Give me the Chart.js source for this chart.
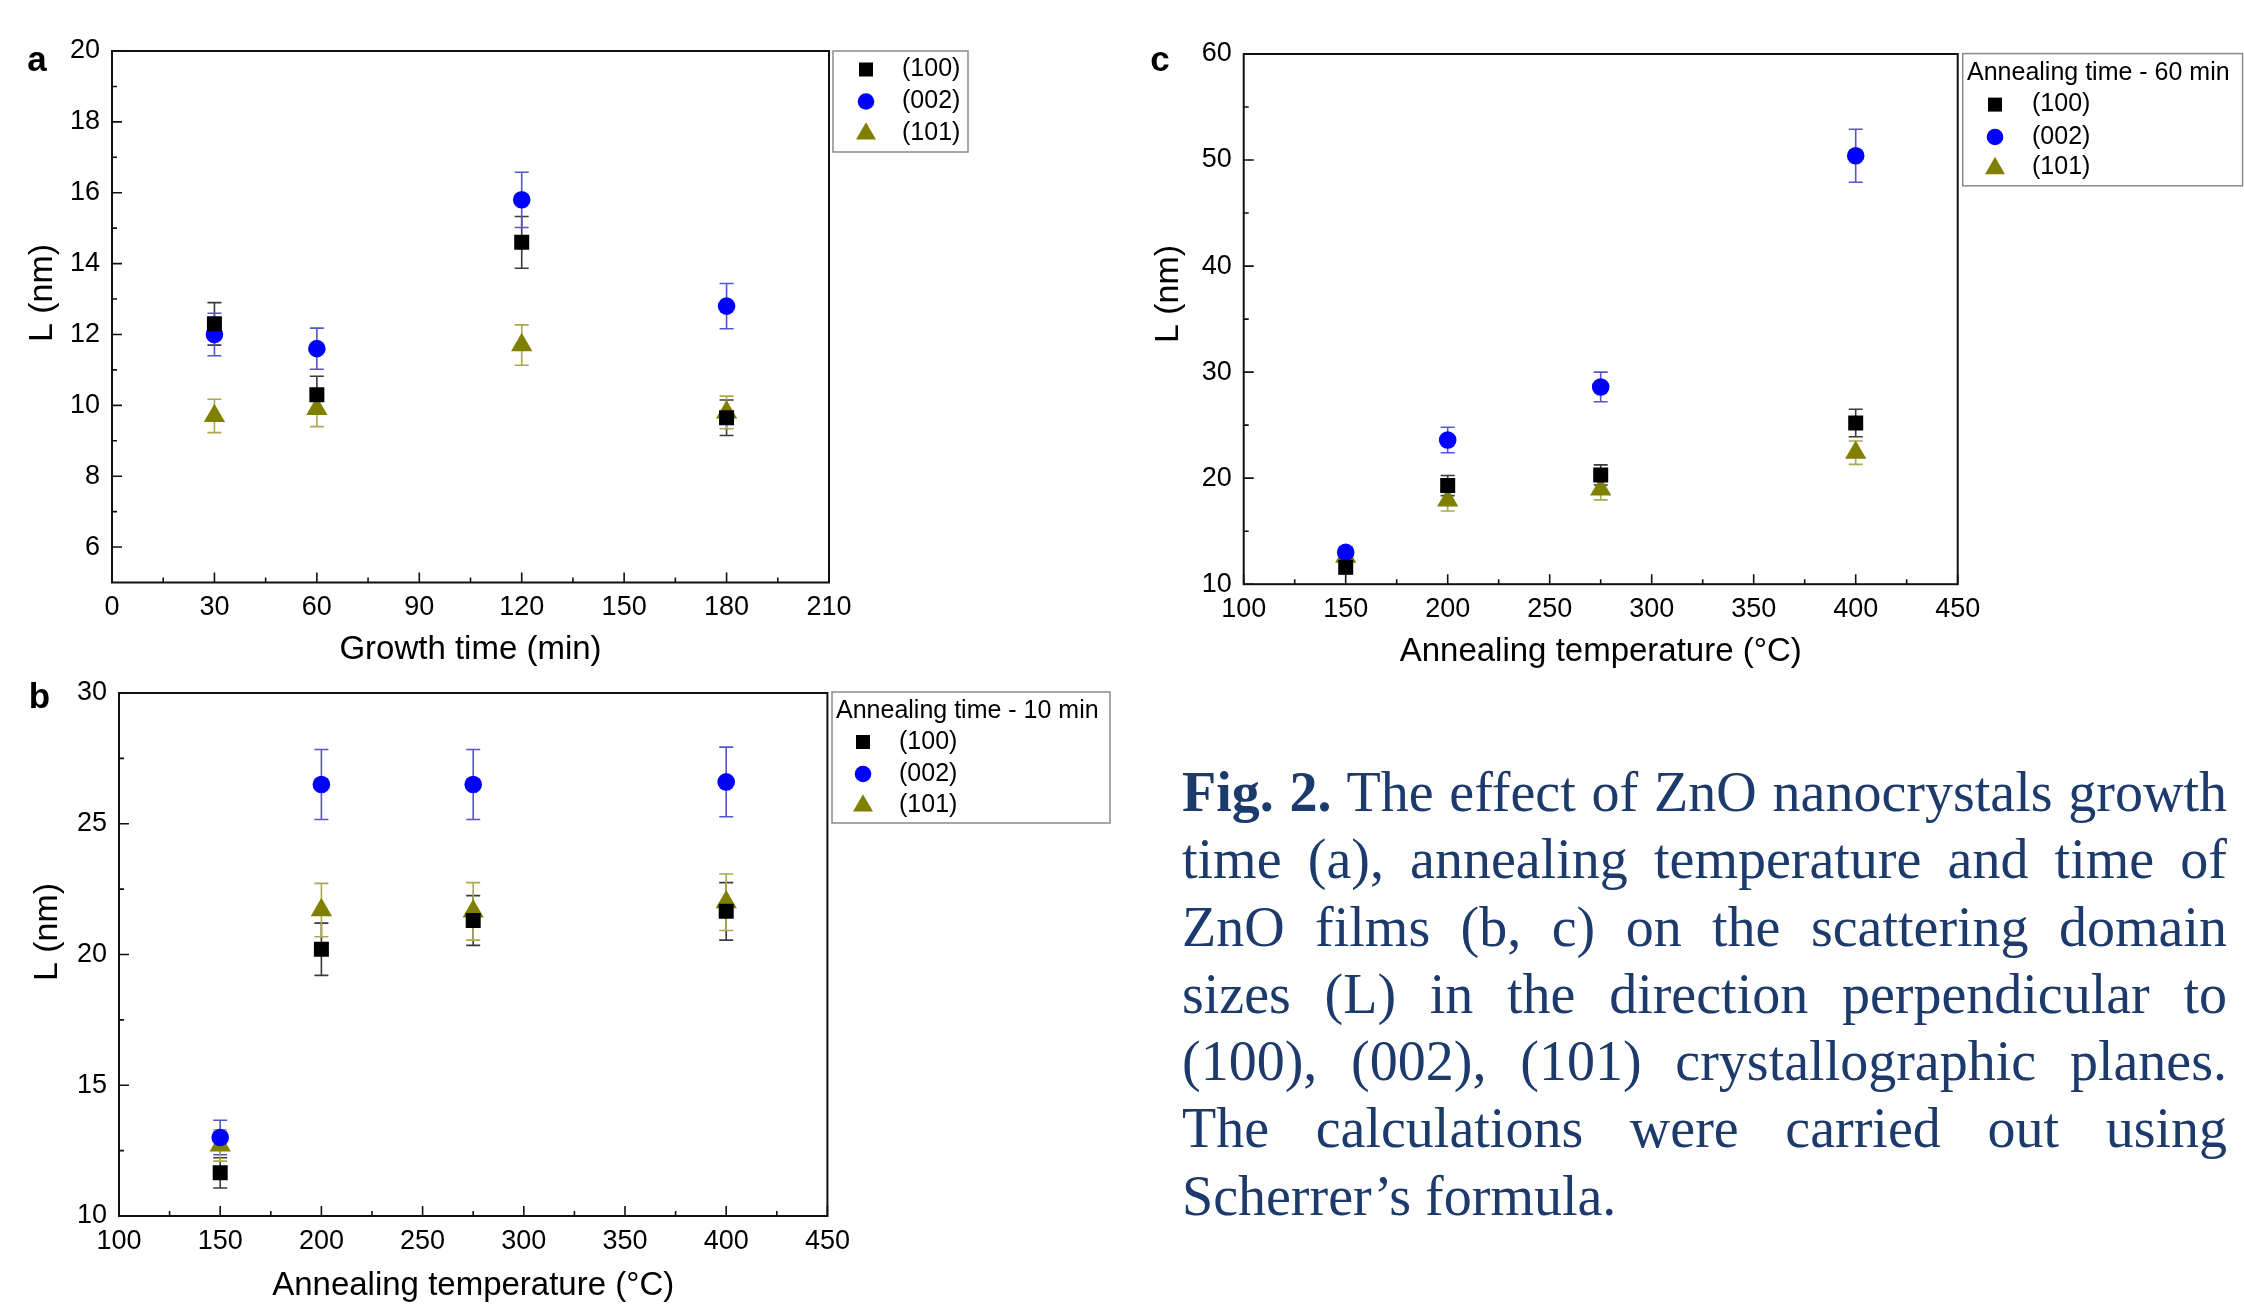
<!DOCTYPE html>
<html>
<head>
<meta charset="utf-8">
<script src="https://cdn.jsdelivr.net/npm/chart.js@4.4.1/dist/chart.umd.min.js"></script>
<style>
html,body{margin:0;padding:0;background:#fff;}
body{width:2244px;height:1306px;position:relative;overflow:hidden;}
.panel{position:absolute;}
#caption{position:absolute;left:1182px;top:759px;width:1045px;font-family:"Liberation Serif","Times New Roman",serif;font-size:56px;line-height:67.3px;color:#1d3a6c;}
#caption div{text-align:justify;text-align-last:justify;height:67.3px;}
#caption div.last{text-align:left;text-align-last:left;}
</style>
</head>
<body>
<div class="panel" style="left:0;top:0;width:1000px;height:690px;"><canvas id="chartA" width="1000" height="690"></canvas></div>
<div class="panel" style="left:0;top:660px;width:1130px;height:646px;"><canvas id="chartB" width="1130" height="646"></canvas></div>
<div class="panel" style="left:1130px;top:0;width:1114px;height:690px;"><canvas id="chartC" width="1114" height="690"></canvas></div>
<div id="caption">
<div><b>Fig. 2.</b> The effect of ZnO nanocrystals growth</div>
<div>time (a), annealing temperature and time of</div>
<div>ZnO films (b, c) on the scattering domain</div>
<div>sizes (L) in the direction perpendicular to</div>
<div>(100), (002), (101) crystallographic planes.</div>
<div>The calculations were carried out using</div>
<div class="last">Scherrer’s formula.</div>
</div>
<script>
// ---------- DATA ----------
const seriesNames = ['(100)', '(002)', '(101)'];

// Panel a: growth time
const aX = [30, 60, 120, 180];
const a100 = [12.3, 10.3, 14.6, 9.65];
const a100Err = [0.6, 0.52, 0.73, 0.5];
const a002 = [12.0, 11.6, 15.8, 12.8];
const a002Err = [0.6, 0.58, 0.78, 0.64];
const a101 = [9.7, 9.9, 11.7, 9.8];
const a101Err = [0.47, 0.5, 0.57, 0.46];
const aXTicks = [0, 30, 60, 90, 120, 150, 180, 210];
const aXMinor = [15, 45, 75, 105, 135, 165, 195];
const aYTicks = [6, 8, 10, 12, 14, 16, 18, 20];
const aYMinor = [7, 9, 11, 13, 15, 17, 19];

// Panel b: annealing temperature, 10 min
const bX = [150, 200, 275, 400];
const b100 = [11.65, 20.2, 21.3, 21.65];
const b100Err = [0.58, 1.0, 0.95, 1.1];
const b002 = [13.0, 26.5, 26.5, 26.6];
const b002Err = [0.66, 1.34, 1.34, 1.33];
const b101 = [12.7, 21.7, 21.65, 22.0];
const b101Err = [0.6, 1.02, 1.1, 1.08];
const bXTicks = [100, 150, 200, 250, 300, 350, 400, 450];
const bXMinor = [125, 175, 225, 275, 325, 375, 425];
const bYTicks = [10, 15, 20, 25, 30];
const bYMinor = [12.5, 17.5, 22.5, 27.5];

// Panel c: annealing temperature, 60 min
const cX = [150, 200, 275, 400];
const c100 = [11.6, 19.3, 20.3, 25.2];
const c100Err = [0.6, 0.95, 0.95, 1.3];
const c002 = [13.0, 23.6, 28.6, 50.4];
const c002Err = [0.5, 1.2, 1.4, 2.5];
const c101 = [12.6, 17.9, 18.95, 22.4];
const c101Err = [0.6, 1.0, 1.0, 1.1];
const cXTicks = [100, 150, 200, 250, 300, 350, 400, 450];
const cXMinor = [125, 175, 225, 275, 325, 375, 425];
const cYTicks = [10, 20, 30, 40, 50, 60];
const cYMinor = [15, 25, 35, 45, 55];

// ---------- STYLE ----------
const FONT = '"Liberation Sans", Arial, sans-serif';
Chart.defaults.font.family = FONT;
Chart.defaults.color = '#000';
const colors = ['#000000', '#0000ff', '#808000'];
const errColors = ['#3a3a3a', '#5555cc', '#a9a950'];
const styles = ['rect', 'circle', 'triangle'];
const radii = [10.6, 8.8, 12.3];

function toPts(xs, ys) { return xs.map((x, i) => ({ x: x, y: ys[i] })); }

function drawMarker(ctx, style, x, y, color, k) {
  ctx.fillStyle = color;
  ctx.beginPath();
  if (style === 'rect') {
    const s = 14 * k; ctx.rect(x - s / 2, y - s / 2, s, s);
  } else if (style === 'circle') {
    ctx.arc(x, y, 8.3 * k, 0, Math.PI * 2);
  } else {
    const w = 20 * k, h = 17.3 * k;
    ctx.moveTo(x, y - h * 0.62); ctx.lineTo(x + w / 2, y + h * 0.38); ctx.lineTo(x - w / 2, y + h * 0.38); ctx.closePath();
  }
  ctx.fill();
}

function makePlugin(p) {
  return {
    id: 'panelDecor',
    beforeDatasetsDraw(chart) {
      const ctx = chart.ctx, xs = chart.scales.x, ys = chart.scales.y;
      ctx.save();
      ctx.lineWidth = 1.6;
      p.errs.forEach((errArr, di) => {
        const ds = chart.data.datasets[di];
        ctx.strokeStyle = errColors[di];
        ds.data.forEach((pt, i) => {
          const e = errArr[i];
          const x = xs.getPixelForValue(pt.x);
          const y1 = ys.getPixelForValue(pt.y + e), y2 = ys.getPixelForValue(pt.y - e);
          ctx.beginPath();
          ctx.moveTo(x, y1); ctx.lineTo(x, y2);
          ctx.moveTo(x - 7, y1); ctx.lineTo(x + 7, y1);
          ctx.moveTo(x - 7, y2); ctx.lineTo(x + 7, y2);
          ctx.stroke();
        });
      });
      ctx.restore();
    },
    afterDraw(chart) {
      const ctx = chart.ctx, xs = chart.scales.x, ys = chart.scales.y, a = chart.chartArea;
      ctx.save();
      // frame
      ctx.strokeStyle = '#111'; ctx.lineWidth = 2;
      ctx.strokeRect(a.left, a.top, a.right - a.left, a.bottom - a.top);
      // inward ticks
      ctx.lineWidth = 1.6;
      ctx.beginPath();
      p.xTicks.forEach(v => { const x = xs.getPixelForValue(v); ctx.moveTo(x, a.bottom); ctx.lineTo(x, a.bottom - 10); });
      p.xMinor.forEach(v => { const x = xs.getPixelForValue(v); ctx.moveTo(x, a.bottom); ctx.lineTo(x, a.bottom - 5); });
      p.yTicks.forEach(v => { const y = ys.getPixelForValue(v); ctx.moveTo(a.left, y); ctx.lineTo(a.left + 10, y); });
      p.yMinor.forEach(v => { const y = ys.getPixelForValue(v); ctx.moveTo(a.left, y); ctx.lineTo(a.left + 5, y); });
      ctx.stroke();
      // y-axis title
      ctx.fillStyle = '#000';
      ctx.font = '34px ' + FONT;
      ctx.textAlign = 'center'; ctx.textBaseline = 'middle';
      ctx.save();
      ctx.translate(p.yTitlePos[0], p.yTitlePos[1]);
      ctx.rotate(-Math.PI / 2);
      ctx.fillText('L (nm)', 0, 0);
      ctx.restore();
      // legend
      const L = p.legend;
      ctx.strokeStyle = '#8a8a8a'; ctx.lineWidth = 1.5;
      ctx.strokeRect(L.box[0], L.box[1], L.box[2] - L.box[0], L.box[3] - L.box[1]);
      ctx.fillStyle = '#000';
      ctx.font = '25px ' + FONT;
      ctx.textBaseline = 'middle'; ctx.textAlign = 'left';
      if (L.title) ctx.fillText(L.title, L.titleX, L.titleY);
      chart.data.datasets.forEach((ds, i) => {
        drawMarker(ctx, styles[i], L.markerX, L.rows[i], colors[i], 1);
        ctx.fillStyle = '#000';
        ctx.fillText(ds.label, L.textX, L.rows[i]);
      });
      // panel letter
      ctx.font = 'bold 35px ' + FONT;
      ctx.textAlign = 'center';
      ctx.fillStyle = '#000';
      ctx.fillText(p.letter[0], p.letter[1], p.letter[2]);
      ctx.restore();
    }
  };
}

function makeChart(id, p) {
  const datasets = p.series.map((ys, i) => ({
    label: seriesNames[i],
    data: toPts(p.x, ys),
    pointStyle: styles[i],
    pointRadius: radii[i],
    pointHoverRadius: radii[i],
    backgroundColor: colors[i],
    borderColor: colors[i],
    borderWidth: 0,
    showLine: false
  }));
  return new Chart(document.getElementById(id), {
    type: 'scatter',
    data: { datasets: datasets },
    options: {
      responsive: false,
      animation: false,
      devicePixelRatio: 1,
      layout: { padding: { top: p.padTop, right: p.padRight, left: 0, bottom: 0 } },
      plugins: { legend: { display: false }, tooltip: { enabled: false } },
      scales: {
        x: {
          type: 'linear', min: p.xMin, max: p.xMax,
          afterBuildTicks: s => { s.ticks = p.xTicks.map(v => ({ value: v })); },
          afterFit: s => { s.height = p.xHeight; },
          grid: { display: false, drawTicks: false },
          border: { display: false },
          ticks: { padding: 9, autoSkip: false, maxRotation: 0, font: { size: 27 }, color: '#000' },
          title: { display: true, text: p.xTitle, font: { size: 33 }, color: '#000', padding: { top: p.xTitlePad, bottom: p.xTitlePad } }
        },
        y: {
          type: 'linear', min: p.yMin, max: p.yMax,
          afterBuildTicks: s => { s.ticks = p.yTicks.map(v => ({ value: v })); },
          afterFit: s => { s.width = p.yWidth; },
          grid: { display: false, drawTicks: false },
          border: { display: false },
          ticks: { padding: 12, autoSkip: false, font: { size: 27 }, color: '#000' },
          title: { display: false }
        }
      }
    },
    plugins: [makePlugin(p)]
  });
}

makeChart('chartA', {
  x: aX, series: [a100, a002, a101], errs: [a100Err, a002Err, a101Err],
  xMin: 0, xMax: 210, yMin: 5, yMax: 20,
  xTicks: aXTicks, xMinor: aXMinor, yTicks: aYTicks, yMinor: aYMinor,
  padTop: 51, padRight: 171, xHeight: 107.5, yWidth: 112,
  xTitle: 'Growth time (min)', xTitlePad: 20, yTitlePos: [43, 293],
  legend: { box: [833, 51, 968, 152], title: null, rows: [69.5, 101.5, 133], markerX: 866, textX: 902 },
  letter: ['a', 37, 61]
});

makeChart('chartB', {
  x: bX, series: [b100, b002, b101], errs: [b100Err, b002Err, b101Err],
  xMin: 100, xMax: 450, yMin: 10, yMax: 30,
  xTicks: bXTicks, xMinor: bXMinor, yTicks: bYTicks, yMinor: bYMinor,
  padTop: 33, padRight: 302.6, xHeight: 90, yWidth: 119,
  xTitle: 'Annealing temperature (°C)', xTitlePad: 0, yTitlePos: [48, 272],
  legend: { box: [832, 32, 1110, 163], title: 'Annealing time - 10 min', titleX: 836, titleY: 51.5, rows: [82, 114, 145], markerX: 863, textX: 899 },
  letter: ['b', 39.5, 38]
});

makeChart('chartC', {
  x: cX, series: [c100, c002, c101], errs: [c100Err, c002Err, c101Err],
  xMin: 100, xMax: 450, yMin: 10, yMax: 60,
  xTicks: cXTicks, xMinor: cXMinor, yTicks: cYTicks, yMinor: cYMinor,
  padTop: 54, padRight: 286.3, xHeight: 105.8, yWidth: 113.7,
  xTitle: 'Annealing temperature (°C)', xTitlePad: 18.6, yTitlePos: [39, 294],
  legend: { box: [832.7, 53.6, 1112.6, 185.8], title: 'Annealing time - 60 min', titleX: 837, titleY: 72.7, rows: [104.6, 137, 167.6], markerX: 865, textX: 902 },
  letter: ['c', 30, 61]
});
</script>
</body>
</html>
